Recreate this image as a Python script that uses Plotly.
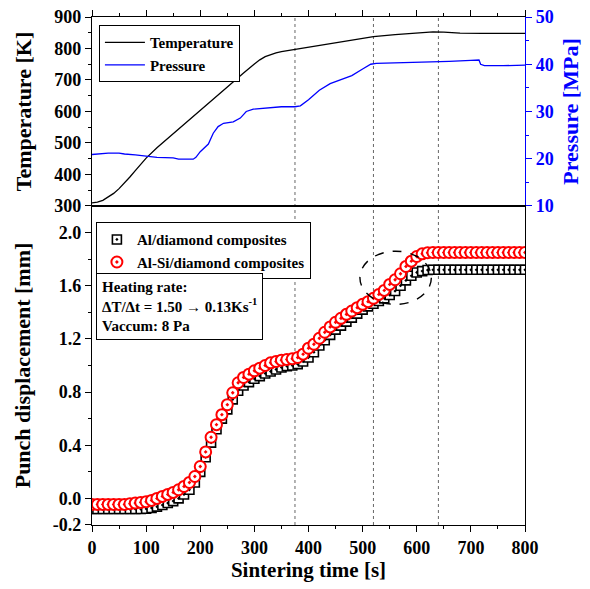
import plotly.graph_objects as go

# ---- Top panel data ----
temp_t = [0, 10, 20, 30, 40, 50, 60, 70, 80, 90, 100, 120, 140, 160, 180, 200, 220, 240, 260, 280,
          300, 310, 320, 330, 340, 350, 375, 400, 450, 500, 520, 560, 600, 630, 650, 680, 720, 760, 800]
temp_K = [310, 312, 318, 328, 340, 355, 372, 392, 412, 432, 452, 485, 515, 544, 574, 603, 633, 663, 692, 722,
          751, 764, 774, 781, 786, 790, 797, 803, 817, 833, 838, 844, 850, 853, 852, 849, 848, 848, 848]

pres_t = [0, 30, 50, 60, 80, 100, 120, 150, 160, 187, 192, 200, 208, 215, 224, 233, 243, 261, 274, 285,
          298, 323, 350, 375, 385, 400, 420, 440, 460, 480, 500, 515, 525, 560, 600, 640, 660, 700, 715,
          718, 725, 760, 780, 800]
pres_MPa = [20.9, 21.2, 21.2, 21.0, 20.8, 20.5, 20.3, 20.2, 19.9, 19.9, 20.3, 21.5, 22.4, 23.1, 25.4, 26.8,
            27.5, 27.8, 28.6, 30.0, 30.5, 30.8, 31.0, 31.0, 31.2, 32.5, 34.5, 35.9, 36.7, 37.6, 39.0, 40.0,
            40.2, 40.3, 40.3, 40.4, 40.6, 40.8, 40.9, 40.0, 39.7, 39.7, 39.8, 39.8]

# ---- Bottom panel data ----
disp_t = list(range(0, 801, 10))
al_disp = [-0.08, -0.08, -0.08, -0.08, -0.08, -0.08, -0.08, -0.08, -0.08, -0.08,
           -0.078, -0.072, -0.062, -0.05, -0.035, -0.02, 0.0, 0.03, 0.065, 0.12,
           0.2, 0.31, 0.42, 0.52, 0.6, 0.67, 0.745, 0.81, 0.85, 0.875,
           0.9, 0.92, 0.94, 0.955, 0.97, 0.985, 0.995, 1.0, 1.01, 1.03,
           1.06, 1.1, 1.15, 1.19, 1.23, 1.27, 1.3, 1.33, 1.36, 1.39,
           1.42, 1.445, 1.465, 1.485, 1.505, 1.53, 1.56, 1.6, 1.64, 1.675,
           1.7, 1.71, 1.718, 1.72, 1.72, 1.72, 1.72, 1.72, 1.72, 1.72,
           1.72, 1.72, 1.72, 1.72, 1.72, 1.72, 1.72, 1.72, 1.72, 1.72, 1.72]
alsi_disp = [-0.045, -0.045, -0.045, -0.045, -0.045, -0.045, -0.045, -0.04, -0.035, -0.03,
             -0.025, -0.015, 0.0, 0.015, 0.03, 0.045, 0.065, 0.09, 0.12, 0.165,
             0.24, 0.35, 0.46, 0.555, 0.63, 0.705, 0.795, 0.87, 0.91, 0.935,
             0.96, 0.98, 1.0, 1.02, 1.03, 1.04, 1.045, 1.05, 1.06, 1.085,
             1.13, 1.16, 1.205, 1.25, 1.29, 1.325, 1.355, 1.385, 1.41, 1.435,
             1.46, 1.48, 1.505, 1.535, 1.565, 1.61, 1.645, 1.69, 1.745, 1.785,
             1.82, 1.84, 1.848, 1.85, 1.85, 1.85, 1.85, 1.85, 1.85, 1.85,
             1.85, 1.85, 1.85, 1.85, 1.85, 1.85, 1.85, 1.85, 1.85, 1.85, 1.85]

disp_ticks = [-0.2, 0.0, 0.4, 0.8, 1.2, 1.6, 2.0]
disp_ticklabels = ["-0.2", "0.0", "0.4", "0.8", "1.2", "1.6", "2.0"]
stage_lines = [375, 520, 640]

FONT = "Liberation Serif"
BLUE = "#0000FF"

fig = go.Figure()
fig.add_trace(go.Scatter(x=temp_t, y=temp_K, mode="lines", name="Temperature",
                         line=dict(color="black", width=1.3), xaxis="x", yaxis="y", legend="legend"))
fig.add_trace(go.Scatter(x=pres_t, y=pres_MPa, mode="lines", name="Pressure",
                         line=dict(color=BLUE, width=1.3), xaxis="x", yaxis="y3", legend="legend"))
fig.add_trace(go.Scatter(x=disp_t, y=al_disp, mode="markers", name="Al/diamond composites",
                         marker=dict(symbol="square-dot", size=9, color="white",
                                     line=dict(color="black", width=1.6)),
                         xaxis="x2", yaxis="y2", legend="legend2"))
fig.add_trace(go.Scatter(x=disp_t, y=alsi_disp, mode="markers", name="Al-Si/diamond composites",
                         marker=dict(symbol="circle-dot", size=11, color="white",
                                     line=dict(color="red", width=2)),
                         xaxis="x2", yaxis="y2", legend="legend2"))

tickfont = dict(family=FONT, size=18, color="black", weight="bold")
titlefont = dict(family=FONT, size=22, color="black", weight="bold")
common = dict(showgrid=False, zeroline=False, showline=True, linecolor="black", linewidth=1.3,
              ticks="outside", tickcolor="black", ticklen=6, tickwidth=1.2, automargin=False,
              ticklabeloverflow="allow")

fig.update_layout(
    width=582, height=581,
    margin=dict(l=84, r=65, t=9, b=64),
    plot_bgcolor="white", paper_bgcolor="white",
    xaxis=dict(**common, domain=[0, 1], anchor="y", range=[0, 800], dtick=100, side="top",
               showticklabels=False, mirror=True,
               minor=dict(ticks="outside", dtick=50, ticklen=3, tickcolor="black")),
    yaxis=dict(**common, domain=[0.628, 1], anchor="x", range=[300, 900], dtick=100,
               tickfont=tickfont, title=dict(text="Temperature [K]", font=titlefont, standoff=16),
               minor=dict(ticks="outside", dtick=50, ticklen=3, tickcolor="black")),
    yaxis3=dict(showgrid=False, zeroline=False, showline=True, linecolor=BLUE, linewidth=1.3,
                ticks="outside", tickcolor=BLUE, ticklen=6, tickwidth=1.2, automargin=False,
                ticklabeloverflow="allow",
                overlaying="y", side="right", anchor="x", range=[10, 50], dtick=10,
                tickfont=dict(family=FONT, size=18, color=BLUE, weight="bold"),
                title=dict(text="Pressure [MPa]", font=dict(family=FONT, size=22, color=BLUE, weight="bold"),
                           standoff=9),
                minor=dict(ticks="outside", dtick=5, ticklen=3, tickcolor=BLUE)),
    xaxis2=dict(**common, domain=[0, 1], anchor="y2", range=[0, 800], dtick=100, mirror=True,
                tickfont=tickfont,
                title=dict(text="Sintering time [s]", font=dict(family=FONT, size=21, color="black", weight="bold"),
                           standoff=3),
                minor=dict(ticks="outside", dtick=50, ticklen=3, tickcolor="black")),
    yaxis2=dict(**common, domain=[0, 0.628], anchor="x2", range=[-0.2, 2.2], mirror=True,
                tickvals=disp_ticks, ticktext=disp_ticklabels, tickfont=tickfont,
                title=dict(text="Punch displacement [mm]", font=titlefont, standoff=16),
                minor=dict(ticks="outside", dtick=0.2, tick0=0, ticklen=3, tickcolor="black")),
    legend=dict(x=0.016, y=0.984, xanchor="left", yanchor="top", bgcolor="white",
                bordercolor="black", borderwidth=1, itemwidth=40, tracegroupgap=0,
                font=dict(family=FONT, size=15, color="black", weight="bold")),
    legend2=dict(x=0.009, y=0.596, xanchor="left", yanchor="top", bgcolor="white",
                 bordercolor="black", borderwidth=1, itemwidth=30, tracegroupgap=0,
                 font=dict(family=FONT, size=15, color="black", weight="bold")),
    showlegend=True,
)

for xv in stage_lines:
    fig.add_shape(type="line", xref="x2", yref="paper", x0=xv, x1=xv, y0=0, y1=1,
                  line=dict(color="#666666", width=1, dash="dot"), layer="below")

fig.add_shape(type="circle", xref="x2", yref="y2", x0=495, x1=627, y0=1.46, y1=1.86,
              line=dict(color="black", width=1.4, dash="dash"))

fig.add_annotation(xref="paper", yref="paper", x=0.01, y=0.496, xanchor="left", yanchor="top",
                   align="left", showarrow=False, bgcolor="white", bordercolor="black",
                   borderwidth=1, borderpad=5,
                   text="Heating rate:<br>ΔT/Δt = 1.50 → 0.13Ks<sup>-1</sup><br>Vaccum: 8 Pa",
                   font=dict(family=FONT, size=15, color="black", weight="bold"))

fig.write_html("out.html")
